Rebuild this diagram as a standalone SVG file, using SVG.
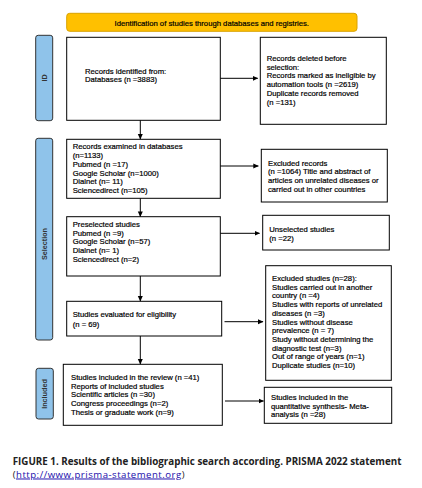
<svg xmlns="http://www.w3.org/2000/svg" width="422" height="488" viewBox="0 0 422 488">
<defs>
<marker id="ah" markerWidth="6" markerHeight="6" refX="5" refY="3" orient="auto" markerUnits="userSpaceOnUse">
<path d="M0,0.5 L5.5,3 L0,5.5 Z" fill="#000"/>
</marker>
<style>
.box{fill:#fff;stroke:#000;stroke-width:1}
.side{fill:#8FC3EA;stroke:#333;stroke-width:1}
.hdr{fill:#FFC000;stroke:#D9A200;stroke-width:1}
text{font-family:"Liberation Sans",Arial,sans-serif;font-size:7.7px;fill:#000;stroke:#000;stroke-width:0.2px}
.sl{font-size:7.2px;font-weight:bold;fill:#333;stroke:none}
.cap{font-family:"Open Sans","Noto Sans",sans-serif;font-size:9.8px;font-weight:bold;fill:#222;stroke:none}
.link{font-family:"Open Sans","Noto Sans",sans-serif;font-size:9.6px;fill:#222;stroke:none;letter-spacing:0.5px}
.conn line{stroke:#000;stroke-width:1;marker-end:url(#ah)}
</style>
</defs>
<rect width="422" height="488" fill="#fff"/>

<g id="header">
<rect class="hdr" x="66.7" y="13.3" width="290.3" height="18" rx="3"/>
<text x="211.8" y="25.5" text-anchor="middle">Identification of studies through databases and registries.</text>
</g>

<g id="side-id">
<rect class="side" x="35.7" y="35.3" width="17" height="85.4" rx="2.5"/>
<text class="sl" transform="translate(46.5,78) rotate(-90)" text-anchor="middle">ID</text>
</g>
<g id="side-selection">
<rect class="side" x="35.7" y="138.3" width="17" height="201.7" rx="2.5"/>
<text class="sl" transform="translate(46.5,244) rotate(-90)" text-anchor="middle">Selection</text>
</g>
<g id="side-included">
<rect class="side" x="36" y="368.3" width="17.3" height="50.7" rx="2.5"/>
<text class="sl" transform="translate(47,394) rotate(-90)" text-anchor="middle">Included</text>
</g>

<g id="identified">
<rect class="box" x="66.7" y="37.3" width="153.6" height="83"/>
<text x="85" y="73.5">Records identified from:</text>
<text x="85" y="82.2">Databases (n =3883)</text>
</g>

<g id="deleted">
<rect class="box" x="260.3" y="37.3" width="126" height="87"/>
<text x="266.7" y="61">Records deleted before</text>
<text x="266.7" y="69.7">selection:</text>
<text x="266.7" y="78.4">Records marked as ineligible by</text>
<text x="266.7" y="87.1">automation tools (n =2619)</text>
<text x="266.7" y="95.8">Duplicate records removed</text>
<text x="266.7" y="104.5">(n =131)</text>
</g>

<g id="examined">
<rect class="box" x="66.7" y="139.3" width="153.6" height="59"/>
<text x="72.7" y="149.4">Records examined in databases</text>
<text x="72.7" y="158.1">(n=1133)</text>
<text x="72.7" y="166.8">Pubmed (n =17)</text>
<text x="72.7" y="175.5">Google Scholar (n=1000)</text>
<text x="72.7" y="184.2">Dialnet (n= 11)</text>
<text x="72.7" y="192.9">Sciencedirect (n=105)</text>
</g>

<g id="excluded-records">
<rect class="box" x="261.3" y="149.3" width="126" height="52.7"/>
<text x="268" y="165.7">Excluded records</text>
<text x="268" y="174.4">(n =1064) Title and abstract of</text>
<text x="268" y="183.1">articles on unrelated diseases or</text>
<text x="268" y="191.8">carried out in other countries</text>
</g>

<g id="preselected">
<rect class="box" x="66.7" y="216.7" width="153.6" height="59.3"/>
<text x="72.7" y="227">Preselected studies</text>
<text x="72.7" y="235.7">Pubmed (n =9)</text>
<text x="72.7" y="244.4">Google Scholar (n=57)</text>
<text x="72.7" y="253.1">Dialnet (n= 1)</text>
<text x="72.7" y="261.8">Sciencedirect (n=2)</text>
</g>

<g id="unselected">
<rect class="box" x="262.7" y="215.3" width="126.6" height="34.7"/>
<text x="269.3" y="232">Unselected studies</text>
<text x="269.3" y="240.7">(n =22)</text>
</g>

<g id="evaluated">
<rect class="box" x="66.7" y="301.3" width="155" height="34.7"/>
<text x="72.7" y="317">Studies evaluated for eligibility</text>
<text x="72.7" y="326.7">(n = 69)</text>
</g>

<g id="excluded-studies">
<rect class="box" x="265.7" y="265.7" width="125.6" height="114.6"/>
<text x="272" y="281">Excluded studies (n=28):</text>
<text x="272" y="289.7">Studies carried out in another</text>
<text x="272" y="298.4">country (n =4)</text>
<text x="272" y="307.1">Studies with reports of unrelated</text>
<text x="272" y="315.8">diseases (n =3)</text>
<text x="272" y="324.5">Studies without disease</text>
<text x="272" y="333.2">prevalence (n = 7)</text>
<text x="272" y="341.9">Study without determining the</text>
<text x="272" y="350.6">diagnostic test (n=3)</text>
<text x="272" y="359.3">Out of range of years (n=1)</text>
<text x="272" y="368">Duplicate studies (n=10)</text>
</g>

<g id="included">
<rect class="box" x="63.3" y="364.3" width="159" height="61"/>
<text x="71" y="380">Studies included in the review (n =41)</text>
<text x="71" y="388.7">Reports of included studies</text>
<text x="71" y="397.4">Scientific articles (n =30)</text>
<text x="71" y="406.1">Congress proceedings (n=2)</text>
<text x="71" y="414.8">Thesis or graduate work (n=9)</text>
</g>

<g id="meta">
<rect class="box" x="264.3" y="387.3" width="127.4" height="36"/>
<text x="271" y="400">Studies included in the</text>
<text x="271" y="408.5">quantitative synthesis- Meta-</text>
<text x="271" y="417">analysis (n =28)</text>
</g>

<g id="connectors" class="conn">
<line x1="220.3" y1="78.3" x2="257.7" y2="78.3"/>
<line x1="140.3" y1="120.3" x2="140.3" y2="139"/>
<line x1="220.3" y1="166" x2="258.3" y2="166"/>
<line x1="140.3" y1="198.3" x2="140.3" y2="216.4"/>
<line x1="220.3" y1="233.3" x2="259.5" y2="233.3"/>
<line x1="140.3" y1="276" x2="140.3" y2="301"/>
<line x1="224.5" y1="321.7" x2="263" y2="321.7"/>
<line x1="140.3" y1="336" x2="140.3" y2="364"/>
<line x1="225" y1="401" x2="263.5" y2="401"/>
</g>

<g id="caption">
<text class="cap" x="12.7" y="464.5">FIGURE 1. Results of the bibliographic search according. PRISMA 2022 statement</text>
<text class="link" x="12.7" y="477.5">(<tspan fill="#1a0dab" text-decoration="underline">http://www.prisma-statement.org</tspan>)</text>
</g>
</svg>
